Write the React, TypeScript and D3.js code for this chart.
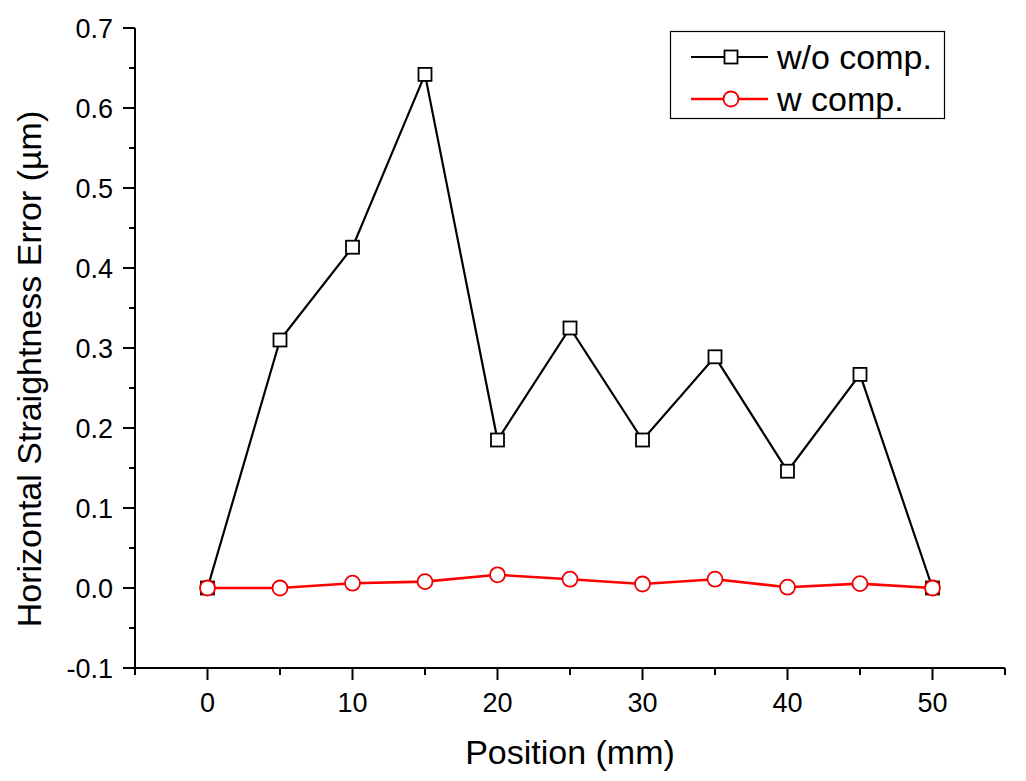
import React from "react";
import * as d3 from "d3";

const positions = [0, 5, 10, 15, 20, 25, 30, 35, 40, 45, 50];
const withoutComp = [0, 0.31, 0.426, 0.642, 0.185, 0.325, 0.185, 0.289, 0.146, 0.267, 0];
const withComp = [0, 0, 0.006, 0.008, 0.0165, 0.011, 0.005, 0.011, 0.001, 0.0055, 0];
const xMajorTicks = [0, 10, 20, 30, 40, 50];
const xMinorTicks = [-5, 5, 15, 25, 35, 45, 55];
const yMajorTicks = [-0.1, 0, 0.1, 0.2, 0.3, 0.4, 0.5, 0.6, 0.7];
const yMinorTicks = [-0.05, 0.05, 0.15, 0.25, 0.35, 0.45, 0.55, 0.65];
const seriesNames = ["w/o comp.", "w comp."];

const W = 1026, H = 781;
const L = 135, R = 1005, T = 28, B = 668;
const font = "Arial, 'Liberation Sans', sans-serif";

export default function App() {
  const x = d3.scaleLinear().domain([-5, 55]).range([L, R]);
  const y = d3.scaleLinear().domain([-0.1, 0.7]).range([B, T]);
  const line = d3.line<number>().x((_, i) => x(positions[i])).y((d) => y(d));
  const sq = 13;
  return (
    <svg width={W} height={H} style={{ position: "absolute", left: 0, top: 0, background: "#fff" }}>
      <rect width={W} height={H} fill="#fff" />
      {/* axes */}
      <line x1={L} y1={T} x2={L} y2={B} stroke="#000" strokeWidth={2} />
      <line x1={L} y1={B} x2={R} y2={B} stroke="#000" strokeWidth={2} />
      {yMajorTicks.map((t) => (
        <g key={"ym" + t}>
          <line x1={L - 12} x2={L} y1={y(t)} y2={y(t)} stroke="#000" strokeWidth={2} />
          <text x={L - 22} y={y(t)} dy="0.36em" textAnchor="end" fontFamily={font} fontSize={27}>
            {t.toFixed(1)}
          </text>
        </g>
      ))}
      {yMinorTicks.map((t) => (
        <line key={"yn" + t} x1={L - 6} x2={L} y1={y(t)} y2={y(t)} stroke="#000" strokeWidth={2} />
      ))}
      {xMajorTicks.map((t) => (
        <g key={"xm" + t}>
          <line x1={x(t)} x2={x(t)} y1={B} y2={B + 12} stroke="#000" strokeWidth={2} />
          <text x={x(t)} y={712} textAnchor="middle" fontFamily={font} fontSize={27}>
            {t}
          </text>
        </g>
      ))}
      {xMinorTicks.map((t) => (
        <line key={"xn" + t} x1={x(t)} x2={x(t)} y1={B} y2={B + 7} stroke="#000" strokeWidth={2} />
      ))}
      <text x={570} y={764} textAnchor="middle" fontFamily={font} fontSize={34}>
        Position (mm)
      </text>
      <text
        transform={`translate(41, ${369}) rotate(-90)`}
        textAnchor="middle"
        fontFamily={font}
        fontSize={34}
      >
        Horizontal Straightness Error (µm)
      </text>
      {/* series */}
      <path d={line(withoutComp) || ""} fill="none" stroke="#000" strokeWidth={2.2} />
      {withoutComp.map((v, i) => (
        <rect key={"s" + i} x={x(positions[i]) - sq / 2} y={y(v) - sq / 2} width={sq} height={sq} fill="#fff" stroke="#000" strokeWidth={1.8} />
      ))}
      <path d={line(withComp) || ""} fill="none" stroke="#f00" strokeWidth={2.6} />
      {withComp.map((v, i) => (
        <circle key={"c" + i} cx={x(positions[i])} cy={y(v)} r={7.5} fill="#fff" stroke="#e00" strokeWidth={1.8} />
      ))}
      {/* legend */}
      <rect x={670.5} y={31.5} width={274} height={87} fill="#fff" stroke="#000" strokeWidth={1.2} />
      <line x1={691} x2={768} y1={57} y2={57} stroke="#000" strokeWidth={2.2} />
      <rect x={731 - sq / 2} y={57 - sq / 2} width={sq} height={sq} fill="#fff" stroke="#000" strokeWidth={1.8} />
      <text x={777} y={57} dy="0.35em" fontFamily={font} fontSize={34}>{seriesNames[0]}</text>
      <line x1={691} x2={768} y1={99} y2={99} stroke="#f00" strokeWidth={2.6} />
      <circle cx={731} cy={99} r={7.5} fill="#fff" stroke="#e00" strokeWidth={1.8} />
      <text x={777} y={99} dy="0.35em" fontFamily={font} fontSize={34}>{seriesNames[1]}</text>
    </svg>
  );
}
